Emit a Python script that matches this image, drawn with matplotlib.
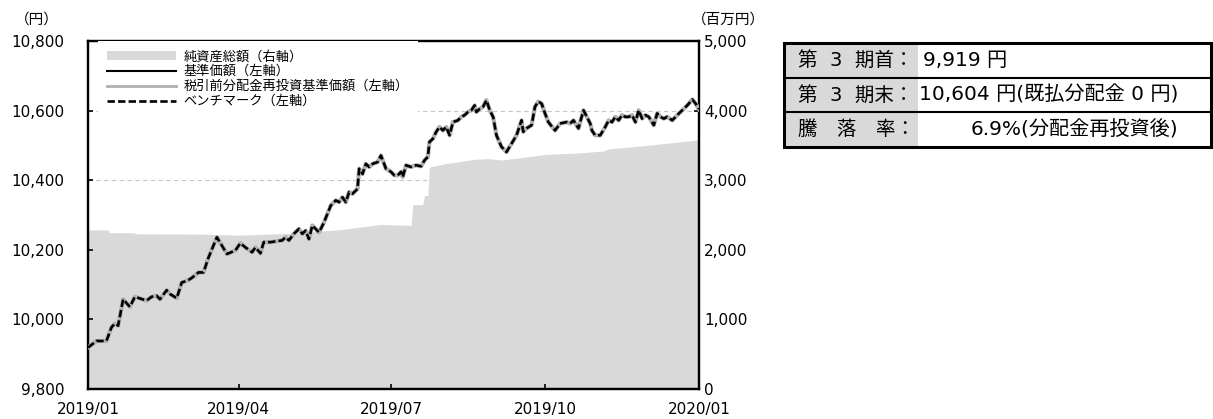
import numpy as np
import pandas as pd
import matplotlib
matplotlib.use("Agg")
import matplotlib.pyplot as plt
import matplotlib.dates as mdates
from matplotlib.patches import Rectangle
from matplotlib.ticker import FuncFormatter

plt.rcParams['font.family'] = ['DejaVu Sans', 'Noto Sans CJK JP']

# 基準価額 (left axis, yen)
nav_dates = [
    "2019-01-01", "2019-01-06", "2019-01-12", "2019-01-15", "2019-01-17", "2019-01-19",
    "2019-01-22", "2019-01-26", "2019-01-29", "2019-02-05", "2019-02-08", "2019-02-11",
    "2019-02-13", "2019-02-17", "2019-02-19", "2019-02-23", "2019-02-26", "2019-03-01",
    "2019-03-03", "2019-03-05", "2019-03-08", "2019-03-11", "2019-03-14", "2019-03-19",
    "2019-03-22", "2019-03-25", "2019-03-30", "2019-04-02", "2019-04-05", "2019-04-09",
    "2019-04-11", "2019-04-14", "2019-04-16", "2019-04-20", "2019-04-27", "2019-04-29",
    "2019-05-01", "2019-05-04", "2019-05-07", "2019-05-09", "2019-05-11", "2019-05-13",
    "2019-05-15", "2019-05-17", "2019-05-19", "2019-05-22", "2019-05-26", "2019-05-29",
    "2019-05-31", "2019-06-02", "2019-06-04", "2019-06-06", "2019-06-08", "2019-06-11",
    "2019-06-12", "2019-06-14", "2019-06-16", "2019-06-18", "2019-06-20", "2019-06-23",
    "2019-06-25", "2019-06-28", "2019-07-01", "2019-07-03", "2019-07-05", "2019-07-07",
    "2019-07-08", "2019-07-10", "2019-07-13", "2019-07-16", "2019-07-19", "2019-07-21",
    "2019-07-23", "2019-07-24", "2019-07-26", "2019-07-28", "2019-07-30", "2019-08-01",
    "2019-08-03", "2019-08-05", "2019-08-07", "2019-08-10", "2019-08-12", "2019-08-14",
    "2019-08-16", "2019-08-18", "2019-08-20", "2019-08-21", "2019-08-23", "2019-08-25",
    "2019-08-27", "2019-08-29", "2019-08-31", "2019-09-02", "2019-09-05", "2019-09-08",
    "2019-09-11", "2019-09-14", "2019-09-17", "2019-09-18", "2019-09-20", "2019-09-23",
    "2019-09-25", "2019-09-27", "2019-09-29", "2019-10-01", "2019-10-03", "2019-10-07",
    "2019-10-10", "2019-10-14", "2019-10-16", "2019-10-18", "2019-10-21", "2019-10-24",
    "2019-10-26", "2019-10-28", "2019-10-29", "2019-10-31", "2019-11-03", "2019-11-06",
    "2019-11-08", "2019-11-10", "2019-11-12", "2019-11-14", "2019-11-16", "2019-11-18",
    "2019-11-20", "2019-11-22", "2019-11-24", "2019-11-26", "2019-11-28", "2019-11-30",
    "2019-12-02", "2019-12-05", "2019-12-07", "2019-12-09", "2019-12-11", "2019-12-13",
    "2019-12-16", "2019-12-19", "2019-12-22", "2019-12-25", "2019-12-28", "2019-12-30",
    "2020-01-01",
]
nav_values = [
    9919, 9938, 9938, 9977, 9988, 9982,
    10058, 10036, 10065, 10054, 10065, 10068,
    10058, 10084, 10073, 10061, 10106, 10111,
    10116, 10123, 10135, 10135, 10178, 10236,
    10212, 10188, 10198, 10219, 10207, 10193,
    10207, 10190, 10222, 10222, 10227, 10236,
    10227, 10246, 10260, 10246, 10255, 10231,
    10270, 10260, 10250, 10279, 10327, 10342,
    10337, 10351, 10337, 10366, 10361, 10375,
    10433, 10418, 10447, 10438, 10447, 10452,
    10471, 10433, 10424, 10414, 10414, 10424,
    10409, 10443, 10438, 10443, 10440, 10457,
    10467, 10510, 10519, 10539, 10553, 10543,
    10553, 10529, 10567, 10572, 10582, 10587,
    10596, 10601, 10615, 10596, 10605, 10611,
    10630, 10601, 10582, 10529, 10496, 10481,
    10505, 10529, 10572, 10539, 10549, 10558,
    10611, 10626, 10620, 10592, 10567, 10543,
    10563, 10567, 10563, 10572, 10549, 10601,
    10582, 10563, 10543, 10529, 10529, 10553,
    10572, 10567, 10582, 10572, 10587, 10582,
    10582, 10587, 10567, 10601, 10577, 10587,
    10582, 10558, 10592, 10582, 10577, 10582,
    10572, 10587, 10601, 10615, 10632, 10620,
    10604,
]
# no distributions paid, reinvested NAV equals NAV; benchmark tracks closely
reinvest_values = nav_values
bench_values = nav_values

# 純資産総額 (right axis, million yen)
asset_dates = [
    "2019-01-01", "2019-01-13", "2019-01-14", "2019-01-28", "2019-01-30", "2019-03-10",
    "2019-04-01", "2019-05-01", "2019-06-01", "2019-06-25", "2019-07-13", "2019-07-14",
    "2019-07-20", "2019-07-21", "2019-07-23", "2019-07-24", "2019-08-01", "2019-08-20",
    "2019-08-28", "2019-09-05", "2019-09-20", "2019-10-01", "2019-10-20", "2019-11-05",
    "2019-11-08", "2019-12-01", "2019-12-20", "2020-01-01",
]
asset_values = [
    2285, 2285, 2245, 2245, 2230, 2225,
    2210, 2235, 2290, 2365, 2350, 2650,
    2650, 2780, 2780, 3190, 3230, 3300,
    3310, 3290, 3335, 3370, 3390, 3420,
    3450, 3500, 3550, 3580,
]

legend_labels = ["純資産総額（右軸）", "基準価額（左軸）",
                 "税引前分配金再投資基準価額（左軸）", "ベンチマーク（左軸）"]

table_labels = ["第  3  期首：", "第  3  期末：", "騰　落　率："]
table_values = ["9,919 円", "10,604 円(既払分配金 0 円)", "6.9%(分配金再投資後)"]

nav_x = pd.to_datetime(nav_dates)
asset_x = pd.to_datetime(asset_dates)

W, H = 1213, 419
fig = plt.figure(figsize=(W / 100, H / 100), dpi=100)
ax = fig.add_axes([88 / W, 1 - 389 / H, (699 - 88) / W, (389 - 41) / H])
ax_r = ax.twinx()
ax.set_zorder(ax_r.get_zorder() + 1)
ax.patch.set_visible(False)

# net assets area on the right axis
area = ax_r.fill_between(asset_x, asset_values, 0,
                         color='#d9d9d9', lw=0, zorder=1)
ax_r.set_ylim(0, 5000)
ax_r.set_yticks(np.arange(0, 5001, 1000))
ax_r.yaxis.set_major_formatter(FuncFormatter(lambda v, p: f"{v:,.0f}"))
ax_r.set_axisbelow(True)
ax_r.yaxis.grid(True, color='#c8c8c8', linestyle=(0, (4, 3)), lw=0.8)

l_nav, = ax.plot(nav_x, nav_values, color='black', lw=1.5, zorder=2)
l_re, = ax.plot(nav_x, reinvest_values, color='#b0b0b0', lw=3.0, zorder=3)
l_bm, = ax.plot(nav_x, bench_values, color='black', lw=1.9,
                dashes=(2.8, 1.2), zorder=4)

ax.set_ylim(9800, 10800)
ax.set_yticks(np.arange(9800, 10801, 200))
ax.yaxis.set_major_formatter(FuncFormatter(lambda v, p: f"{v:,.0f}"))
ax.set_xlim(pd.Timestamp("2019-01-01"), pd.Timestamp("2020-01-01"))
ax.set_xticks(pd.to_datetime(["2019-01-01", "2019-04-01", "2019-07-01",
                              "2019-10-01", "2020-01-01"]))
ax.xaxis.set_major_formatter(mdates.DateFormatter("%Y/%m"))

ax.tick_params(axis='y', direction='in', length=3.6, width=1.2, pad=17, labelsize=11)
ax.tick_params(axis='x', direction='in', length=3.6, width=1.2, pad=9, labelsize=11)
ax_r.tick_params(axis='y', direction='in', length=3.6, width=1.2, pad=3.6, labelsize=11)
for a in (ax, ax_r):
    for s in a.spines.values():
        s.set_linewidth(1.6)
        s.set_color('black')

leg = ax.legend([area, l_nav, l_re, l_bm], legend_labels, loc='upper left',
                bbox_to_anchor=(0.016, 1.0), borderaxespad=0, fontsize=9.5,
                handlelength=5.2, handletextpad=0.6, labelspacing=0.15,
                borderpad=0.7, frameon=True, fancybox=False)
leg.get_frame().set_facecolor('white')
leg.get_frame().set_edgecolor('none')
leg.get_frame().set_alpha(1)
leg.get_lines()[1].set_linewidth(2.0)

fig.text(37 / W, 1 - 19 / H, "（円）", ha='center', va='center', fontsize=10.5)
fig.text(728 / W, 1 - 19 / H, "（百万円）", ha='center', va='center', fontsize=10.5)

# summary table
tx = fig.add_axes([784 / W, 1 - 147 / H, (1211 - 784) / W, (147 - 43) / H])
tx.set_xlim(0, 1)
tx.set_ylim(3, 0)
tx.axis('off')
col = (918 - 784) / (1211 - 784)
tx.add_patch(Rectangle((0, 0), col, 3, facecolor='#d9d9d9', edgecolor='none'))
for r in (1, 2):
    tx.plot([0, 1], [r, r], color='black', lw=1.5, solid_capstyle='butt')
tx.add_patch(Rectangle((0, 0), 1, 3, facecolor='none', edgecolor='black',
                       lw=2.2, clip_on=False))
lx = (798 - 784) / (1211 - 784)
for i, (lab, val) in enumerate(zip(table_labels, table_values)):
    tx.text(lx, i + 0.5, lab, ha='left', va='center', fontsize=14)
    if i == 2:
        tx.text((1178 - 784) / (1211 - 784), i + 0.5, val, ha='right',
                va='center', fontsize=14.5)
    else:
        vx = (923 - 784) / (1211 - 784) if i == 0 else (919 - 784) / (1211 - 784)
        tx.text(vx, i + 0.5, val, ha='left', va='center', fontsize=14.5)

fig.savefig("out.png", dpi=100)
